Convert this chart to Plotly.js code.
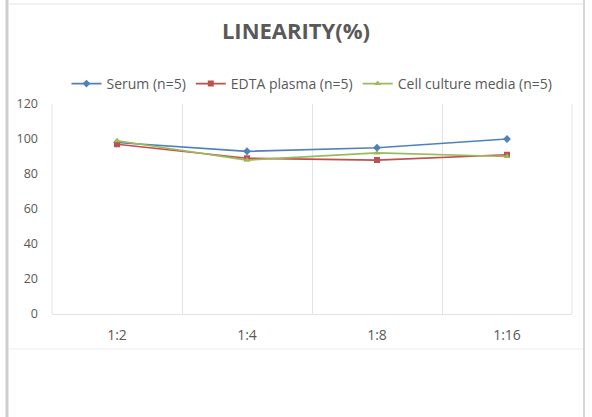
<!DOCTYPE html>
<html>
<head>
<meta charset="utf-8">
<script src="https://cdn.plot.ly/plotly-3.0.1.min.js"></script>
<style>
html,body{margin:0;padding:0;background:#fff;}
#chart{width:592px;height:417px;}
</style>
</head>
<body>
<div id="chart"></div>
<script>
var categories = ["1:2", "1:4", "1:8", "1:16"];
var serum = [98, 93, 95, 100];
var edta = [97, 89, 88, 91];
var cellMedia = [99, 88, 92, 90];
var seriesNames = ["Serum (n=5)", "EDTA plasma (n=5)", "Cell culture media (n=5)"];

var font = "'Open Sans', 'Noto Sans', sans-serif";
var textColor = "#595959";

var traces = [
  {x: categories, y: serum, name: seriesNames[0], type: "scatter", mode: "lines+markers",
   line: {color: "#4F81BD", width: 1.75}, marker: {symbol: "diamond", size: 6, color: "#4F81BD"}},
  {x: categories, y: edta, name: seriesNames[1], type: "scatter", mode: "lines+markers",
   line: {color: "#C0504D", width: 1.75}, marker: {symbol: "square", size: 6, color: "#C0504D"}},
  {x: categories, y: cellMedia, name: seriesNames[2], type: "scatter", mode: "lines+markers",
   line: {color: "#9BBB59", width: 1.75}, marker: {symbol: "triangle-up", size: 6, color: "#9BBB59"}}
];

var L = 52, R = 572, T = 104, B = 314;
function px(x){ return (x - L) / (R - L); }
function py(y){ return (B - y) / (B - T); }

var layout = {
  width: 592, height: 417,
  margin: {l: L, r: 592 - R, t: T, b: 417 - B},
  paper_bgcolor: "#fff", plot_bgcolor: "#fff",
  font: {family: font, color: textColor, size: 12},
  title: {text: "<b>LINEARITY(%)</b>", font: {family: font, size: 22, color: textColor},
          x: 0.5, xanchor: "center", y: 1 - 31/417, yanchor: "middle"},
  showlegend: true,
  legend: {orientation: "h", x: 0.5, xanchor: "center", y: py(84), yanchor: "middle",
           font: {family: font, size: 14, color: textColor}, itemwidth: 30, tracegroupgap: 0},
  xaxis: {type: "category", tickson: "boundaries", showgrid: true, gridcolor: "#e3e3e3", gridwidth: 1,
          showline: true, linecolor: "#e3e3e3", linewidth: 1, mirror: false, zeroline: false,
          ticks: "", tickfont: {family: font, size: 14, color: textColor}, ticklabelstandoff: 8,
          range: [-0.5, 3.5], fixedrange: true},
  yaxis: {range: [0, 120], dtick: 20, showgrid: false, zeroline: false, showline: false,
          ticks: "", tickfont: {family: font, size: 12.5, color: textColor}, ticklabelstandoff: 13,
          fixedrange: true},
  shapes: [
    {type: "line", xref: "paper", yref: "paper", x0: 0, x1: 0, y0: 0, y1: 1,
     line: {color: "#e3e3e3", width: 1}},
    {type: "line", xref: "paper", yref: "paper", x0: 1, x1: 1, y0: 0, y1: 1,
     line: {color: "#e3e3e3", width: 1}},
    {type: "line", xref: "paper", yref: "paper", x0: px(7), x1: px(7), y0: py(0), y1: py(417),
     line: {color: "#cfcfcf", width: 3}},
    {type: "line", xref: "paper", yref: "paper", x0: px(584), x1: px(584), y0: py(0), y1: py(417),
     line: {color: "#d6d6d6", width: 2}},
    {type: "line", xref: "paper", yref: "paper", x0: px(9), x1: px(583), y0: py(4), y1: py(4),
     line: {color: "#e6e6e6", width: 1}},
    {type: "line", xref: "paper", yref: "paper", x0: px(9), x1: px(583), y0: py(349), y1: py(349),
     line: {color: "#ececec", width: 1}}
  ]
};

Plotly.newPlot("chart", traces, layout, {displayModeBar: false, staticPlot: true});
</script>
</body>
</html>
